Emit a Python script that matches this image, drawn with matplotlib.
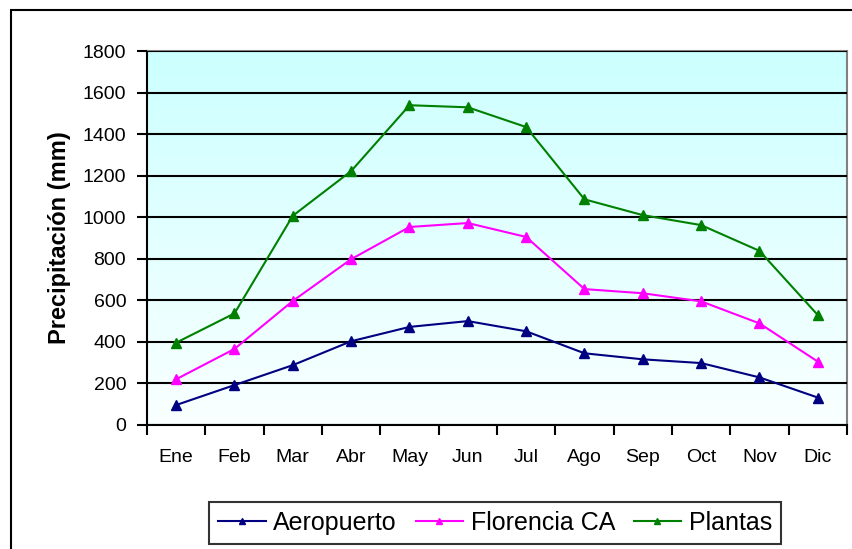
import matplotlib.pyplot as plt
import numpy as np
from matplotlib.colors import LinearSegmentedColormap
from matplotlib.patches import Rectangle

plt.rcParams['font.family'] = ['Liberation Sans', 'DejaVu Sans']

meses = ['Ene', 'Feb', 'Mar', 'Abr', 'May', 'Jun', 'Jul', 'Ago', 'Sep', 'Oct', 'Nov', 'Dic']
aeropuerto = [96, 192, 288, 403, 472, 500, 451, 345, 316, 298, 229, 132]
florencia = [220, 366, 597, 798, 953, 972, 905, 654, 634, 595, 489, 305]
plantas = [396, 537, 1007, 1222, 1539, 1529, 1434, 1086, 1010, 962, 838, 529]

fig = plt.figure(figsize=(8.52, 5.49), dpi=100)
ax = fig.add_axes([0.1725, 0.2259, 0.8216, 0.6812])

# fondo degradado
cmap = LinearSegmentedColormap.from_list('fondo', ['#FAFFFF', '#CCFFFF'])
grad = np.linspace(0, 1, 256).reshape(-1, 1)
ax.imshow(grad, cmap=cmap, aspect='auto', origin='lower',
          extent=[-0.5, 11.5, 0, 1800], zorder=0)

x = np.arange(len(meses))
ax.plot(x, aeropuerto, color='#000080', marker='^', markersize=7.5, linewidth=1.5, label='Aeropuerto', zorder=3)
ax.plot(x, florencia, color='#FF00FF', marker='^', markersize=7.5, linewidth=1.5, label='Florencia CA', zorder=3)
ax.plot(x, plantas, color='#008000', marker='^', markersize=7.5, linewidth=1.5, label='Plantas', zorder=3)

ax.set_xlim(-0.5, 11.5)
ax.set_ylim(0, 1800)
ax.set_yticks(range(0, 1801, 200))
ax.set_xticks(np.arange(-0.5, 12, 1))
ax.set_xticklabels([])
ax.set_xticks(x, minor=True)
ax.set_xticklabels(meses, minor=True)
ax.tick_params(axis='x', which='minor', length=0, pad=17, labelsize=14)
ax.tick_params(axis='x', which='major', length=7, width=1.5, direction='out')
ax.tick_params(axis='y', length=7, width=1.5, direction='out', pad=8, labelsize=14)

ax.grid(True, axis='y', color='black', linewidth=1.5, zorder=1)
ax.set_axisbelow(False)
for s in ['left', 'bottom']:
    ax.spines[s].set_color('black')
    ax.spines[s].set_linewidth(1.5)
for s in ['top', 'right']:
    ax.spines[s].set_color('#808080')
    ax.spines[s].set_linewidth(1.5)

ax.set_ylabel('Precipitación (mm)', fontsize=17, fontweight='bold')
ax.yaxis.set_label_coords(-0.109, 0.5)

leg = fig.legend(loc='center', bbox_to_anchor=(0.581, 0.0474), ncol=3, fontsize=18,
                 frameon=True, fancybox=False, edgecolor='black', markerscale=0.6,
                 handlelength=1.9, columnspacing=0.75, handletextpad=0.3,
                 borderpad=0.35)
leg.get_frame().set_linewidth(1.5)

# marco exterior
fig.patches.append(Rectangle((11 / 852, -0.05), 1.1, 1 - 10 / 549 + 0.05,
                             transform=fig.transFigure, fill=False,
                             edgecolor='black', linewidth=1.5))

plt.savefig('out.png', dpi=100)
